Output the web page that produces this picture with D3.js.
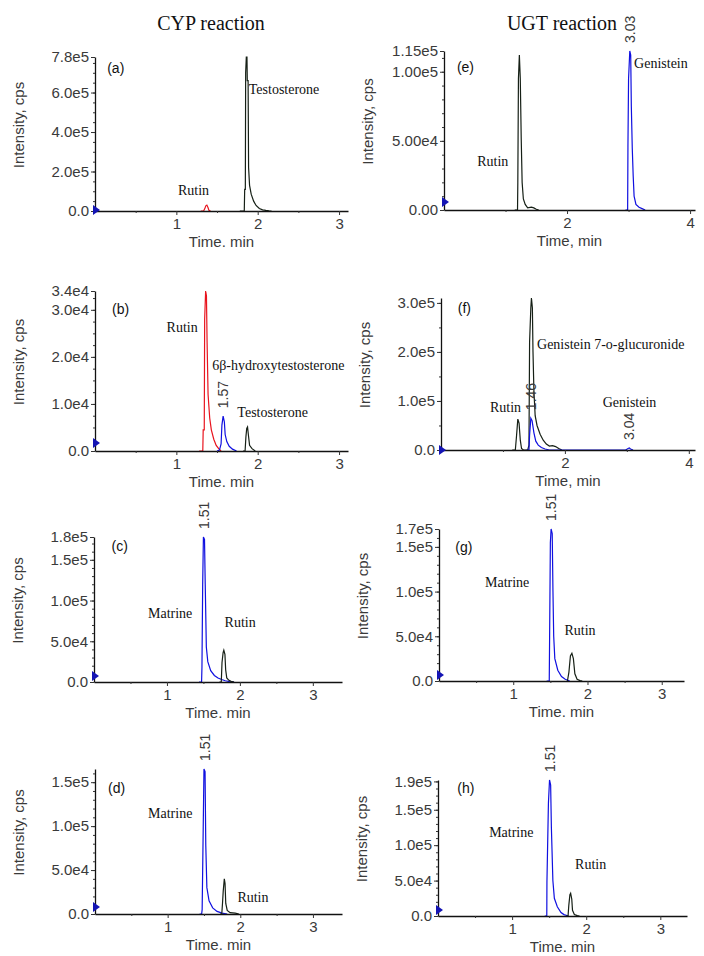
<!DOCTYPE html>
<html><head><meta charset="utf-8">
<script src="https://cdn.jsdelivr.net/npm/d3@7"></script>
<style>body{margin:0;background:#fff}</style>
</head><body><svg id="c" width="704" height="956"></svg>
<script>
// ---------- DATA (time in min, intensity in cps) ----------
const a_rutin = [[1.30,0],[1.335,0],[1.35,1.2e4],[1.362,2.6e4],[1.375,3.0e4],[1.39,1.6e4],[1.40,4e3],[1.42,0]];
const a_testosterone = [[1.78,0],[1.835,0],[1.84,1.1e5],[1.848,1.1e5],[1.852,7.0e5],[1.86,7.8e5],[1.868,7.8e5],[1.872,6.6e5],[1.882,6.6e5],[1.888,2.2e5],[1.90,1.3e5],[1.92,8.5e4],[1.95,5e4],[1.98,2.8e4],[2.02,1.3e4],[2.06,6e3],[2.10,3e3],[2.14,1e3],[2.17,0]];

const b_rutin = [[1.28,0],[1.325,0],[1.33,4.5e3],[1.343,4.5e3],[1.348,2.8e4],[1.36,3.4e4],[1.37,3.3e4],[1.378,2.3e4],[1.39,1.2e4],[1.41,7e3],[1.43,4.5e3],[1.46,2.5e3],[1.49,1.2e3],[1.52,500],[1.55,0]];
const b_hydroxy = [[1.50,0],[1.53,200],[1.55,1.5e3],[1.56,5.5e3],[1.575,7.4e3],[1.59,6.2e3],[1.60,3.5e3],[1.62,2e3],[1.65,1e3],[1.69,400],[1.74,0]];
const b_testosterone = [[1.82,0],[1.845,0],[1.855,3e3],[1.865,4.8e3],[1.875,5.1e3],[1.885,3.5e3],[1.90,1.2e3],[1.93,500],[1.97,0]];

const c_matrine = [[1.44,0],[1.475,0],[1.48,1.8e4],[1.49,1.2e5],[1.50,1.78e5],[1.515,1.75e5],[1.525,1.2e5],[1.54,4.3e4],[1.56,2.5e4],[1.60,1.4e4],[1.65,8e3],[1.70,5e3],[1.75,3e3],[1.80,1.5e3],[1.86,500],[1.92,0]];
const c_rutin = [[1.72,0],[1.745,0],[1.755,2.4e4],[1.77,3.6e4],[1.78,3.9e4],[1.795,3.4e4],[1.805,1.5e4],[1.82,5e3],[1.85,2e3],[1.88,800],[1.92,0]];

const d_matrine = [[1.44,0],[1.468,0],[1.475,5e3],[1.49,1.0e5],[1.50,1.65e5],[1.515,1.62e5],[1.525,7.8e4],[1.54,3e4],[1.57,1.5e4],[1.62,7e3],[1.68,3e3],[1.75,1e3],[1.82,0]];
const d_rutin = [[1.72,0],[1.745,0],[1.755,1.2e4],[1.765,2.6e4],[1.78,4e4],[1.79,3.5e4],[1.80,1.2e4],[1.82,4e3],[1.86,1.5e3],[1.93,1e3],[1.98,0]];

const e_rutin = [[1.15,0],[1.195,0],[1.20,2e4],[1.21,9.5e4],[1.225,1.12e5],[1.24,9.5e4],[1.255,5.2e4],[1.27,2e4],[1.29,8e3],[1.32,4e3],[1.36,1.5e3],[1.42,2e3],[1.46,1.5e3],[1.50,500],[1.54,0]];
const e_genistein = [[2.95,0],[2.985,0],[2.99,4.6e4],[3.0,9.5e4],[3.02,1.15e5],[3.035,1.12e5],[3.045,7.5e4],[3.06,4.5e4],[3.075,2.5e4],[3.09,1e4],[3.12,4e3],[3.17,2e3],[3.22,1e3],[3.27,0]];

const f_black = [[1.15,0],[1.20,0],[1.22,3e4],[1.24,6.3e4],[1.26,5.5e4],[1.28,2e4],[1.30,3e3],[1.33,0],[1.40,0],[1.42,1e4],[1.43,2.2e5],[1.45,2.9e5],[1.46,3.1e5],[1.475,2.9e5],[1.485,2.0e5],[1.50,1.2e5],[1.52,7e4],[1.55,5e4],[1.60,3.2e4],[1.65,2e4],[1.70,1.2e4],[1.75,8e3],[1.80,9e3],[1.85,7e3],[1.90,3e3],[1.95,0]];
const f_blue = [[1.38,0],[1.42,0],[1.43,3e4],[1.45,6.5e4],[1.47,6e4],[1.50,3.5e4],[1.53,1.8e4],[1.57,1e4],[1.62,5e3],[1.68,2e3],[1.75,0],[2.98,0],[3.02,3e3],[3.04,4e3],[3.06,2e3],[3.10,0]];

const g_matrine = [[1.45,0],[1.485,0],[1.49,5e4],[1.50,1.55e5],[1.51,1.7e5],[1.525,1.65e5],[1.535,1e5],[1.545,5e4],[1.56,2.5e4],[1.60,1.2e4],[1.65,5e3],[1.70,2e3],[1.76,0]];
const g_rutin = [[1.73,0],[1.75,1e4],[1.77,2.8e4],[1.79,3.1e4],[1.81,2.5e4],[1.83,8e3],[1.86,2e3],[1.90,500],[1.93,0]];

const h_matrine = [[1.44,0],[1.468,0],[1.47,4.8e4],[1.49,1.59e5],[1.505,1.92e5],[1.52,1.85e5],[1.53,1.25e5],[1.55,5e4],[1.57,2.5e4],[1.61,1.3e4],[1.66,5e3],[1.70,2e3],[1.76,0]];
const h_rutin = [[1.73,0],[1.755,0],[1.765,1.5e4],[1.78,3.0e4],[1.79,3.2e4],[1.805,2.4e4],[1.815,8e3],[1.84,2e3],[1.88,500],[1.91,0]];

// tick values / labels
const a_yTicks = [0,2e5,4e5,6e5,7.8e5], a_yLabels = ["0.0","2.0e5","4.0e5","6.0e5","7.8e5"];
const b_yTicks = [0,1e4,2e4,3e4,3.4e4], b_yLabels = ["0.0","1.0e4","2.0e4","3.0e4","3.4e4"];
const c_yTicks = [0,5e4,1e5,1.5e5,1.78e5], c_yLabels = ["0.0","5.0e4","1.0e5","1.5e5","1.8e5"];
const d_yTicks = [0,5e4,1e5,1.5e5], d_yLabels = ["0.0","5.0e4","1.0e5","1.5e5"];
const e_yTicks = [0,5e4,1e5,1.15e5], e_yLabels = ["0.00","5.00e4","1.00e5","1.15e5"];
const f_yTicks = [0,1e5,2e5,3e5], f_yLabels = ["0.0","1.0e5","2.0e5","3.0e5"];
const g_yTicks = [0,5e4,1e5,1.5e5,1.7e5], g_yLabels = ["0.0","5.0e4","1.0e5","1.5e5","1.7e5"];
const h_yTicks = [0,5e4,1e5,1.5e5,1.9e5], h_yLabels = ["0.0","5.0e4","1.0e5","1.5e5","1.9e5"];
const xTicks3 = [1,2,3], xMinor3 = [0.5,1.5,2.5];
const xTicks4 = [2,4], xMinor4 = [1,3];

// annotations: [time, intensity, text]
const a_notes = [[0.15,7.0e5,"(a)","s"],[1.89,5.93e5,"Testosterone"],[1.02,8.1e4,"Rutin"]];
const b_notes = [[0.21,2.91e4,"(b)","s"],[0.88,2.53e4,"Rutin"],[1.44,1.72e4,"6β-hydroxytestosterone"],[1.75,7.2e3,"Testosterone"]];
const c_notes = [[0.24,1.61e5,"(c)","s"],[0.74,7.9e4,"Matrine"],[1.79,6.75e4,"Rutin"]];
const d_notes = [[0.18,1.38e5,"(d)","s"],[0.73,1.09e5,"Matrine"],[1.96,1.37e4,"Rutin"]];
const e_notes = [[0.21,9.98e4,"(e)","s"],[3.09,1.03e5,"Genistein"],[0.54,3.18e4,"Rutin"]];
const f_notes = [[0.27,2.79e5,"(f)","s"],[1.55,2.06e5,"Genistein 7-o-glucuronide"],[0.79,7.7e4,"Rutin"],[2.61,8.8e4,"Genistein"]];
const g_notes = [[0.22,1.44e5,"(g)","s"],[0.62,1.05e5,"Matrine"],[1.69,5.1e4,"Rutin"]];
const h_notes = [[0.26,1.74e5,"(h)","s"],[0.69,1.12e5,"Matrine"],[1.85,6.6e4,"Rutin"]];

// peak retention-time labels: [time, apex intensity, text]
const b_peaks = [[1.575,7.4e3,"1.57"]];
const c_peaks = [[1.51,1.78e5,"1.51"]];
const d_peaks = [[1.51,1.65e5,"1.51"]];
const e_peaks = [[3.025,1.15e5,"3.03"]];
const f_peaks = [[1.46,6.5e4,"1.46"],[3.04,4e3,"3.04"]];
const g_peaks = [[1.515,1.7e5,"1.51"]];
const h_peaks = [[1.51,1.92e5,"1.51"]];

const titles = ["CYP reaction","UGT reaction"];

// ---------- LAYOUT ----------
const RED="#e8141e", BLUE="#1010e0", BLACK="#162016";
const panels = [
 {box:[95,348,57,211], xMax:3.11, yMax:7.8e5, yT:a_yTicks, yL:a_yLabels, yMinor:5e4, xT:xTicks3, xM:xMinor3, tr:[[a_rutin,RED],[a_testosterone,BLACK]], notes:a_notes, peaks:[], xt:"Time. min", tri:-1},
 {box:[95,348,291,451], xMax:3.11, yMax:3.4e4, yT:b_yTicks, yL:b_yLabels, yMinor:2.5e3, xT:xTicks3, xM:xMinor3, tr:[[b_rutin,RED],[b_hydroxy,BLUE],[b_testosterone,BLACK]], notes:b_notes, peaks:b_peaks, xt:"Time. min", tri:-8},
 {box:[94,342,537,682], xMax:3.4, yMax:1.78e5, yT:c_yTicks, yL:c_yLabels, yMinor:1e4, xT:xTicks3, xM:xMinor3, tr:[[c_matrine,BLUE],[c_rutin,BLACK]], notes:c_notes, peaks:c_peaks, xt:"Time. min", tri:-6},
 {box:[95,342,769,914], xMax:3.4, yMax:1.65e5, yT:d_yTicks, yL:d_yLabels, yMinor:1e4, xT:xTicks3, xM:xMinor3, tr:[[d_matrine,BLUE],[d_rutin,BLACK]], notes:d_notes, peaks:d_peaks, xt:"Time. min", tri:-7},
 {box:[444,695,51,210], xMax:4.08, yMax:1.15e5, yT:e_yTicks, yL:e_yLabels, yMinor:1e4, xT:xTicks4, xM:xMinor4, tr:[[e_rutin,BLACK],[e_genistein,BLUE]], notes:e_notes, peaks:e_peaks, xt:"Time, min", tri:-8},
 {box:[441,695,298,450], xMax:4.1, yMax:3.1e5, yT:f_yTicks, yL:f_yLabels, yMinor:5e4, xT:xTicks4, xM:xMinor4, tr:[[f_black,BLACK],[f_blue,BLUE]], notes:f_notes, peaks:f_peaks, xt:"Time, min", tri:0},
 {box:[439,684,529,681], xMax:3.3, yMax:1.7e5, yT:g_yTicks, yL:g_yLabels, yMinor:1e4, xT:xTicks3, xM:xMinor3, tr:[[g_matrine,BLUE],[g_rutin,BLACK]], notes:g_notes, peaks:g_peaks, xt:"Time. min", tri:-6},
 {box:[438,687,780,916], xMax:3.36, yMax:1.92e5, yT:h_yTicks, yL:h_yLabels, yMinor:1e4, xT:xTicks3, xM:xMinor3, tr:[[h_matrine,BLUE],[h_rutin,BLACK]], notes:h_notes, peaks:h_peaks, xt:"Time. min", tri:-6}
];

const svg = d3.select("#c");
svg.append("rect").attr("width",704).attr("height",956).attr("fill","#fff");
const SANS="'Liberation Sans', Arial, sans-serif", SERIF="'Liberation Serif', 'Times New Roman', serif";

[[211,titles[0]],[562,titles[1]]].forEach(([x,t])=>{
  svg.append("text").attr("x",x).attr("y",30).attr("text-anchor","middle")
    .attr("font-family",SERIF).attr("font-size",20).attr("fill","#111").text(t);
});

panels.forEach(p=>{
  const [L,R,T,B]=p.box;
  const x=d3.scaleLinear().domain([0,p.xMax]).range([L,R]);
  const y=d3.scaleLinear().domain([0,p.yMax]).range([B,T]);
  const g=svg.append("g");
  const line=d3.line().x(d=>x(d[0])).y(d=>y(d[1]));
  p.tr.forEach(([d,c])=>{
    g.append("path").attr("d",line(d)).attr("fill","none").attr("stroke",c).attr("stroke-width",1.2).attr("stroke-linejoin","miter");
  });
  // axes
  const ya=g.append("g").attr("transform",`translate(${L},0)`)
    .call(d3.axisLeft(y).tickValues(p.yT).tickFormat((d,i)=>p.yL[i]).tickSize(4).tickSizeOuter(0).tickPadding(2));
  const ym=g.append("g").attr("transform",`translate(${L},0)`)
    .call(d3.axisLeft(y).tickValues(d3.range(0,p.yMax,p.yMinor)).tickFormat("").tickSize(2).tickSizeOuter(0));
  ym.select(".domain").remove();
  const xa=g.append("g").attr("transform",`translate(0,${B})`)
    .call(d3.axisBottom(x).tickValues(p.xT).tickFormat(d3.format("d")).tickSize(4).tickSizeOuter(0).tickPadding(3));
  const xm=g.append("g").attr("transform",`translate(0,${B})`)
    .call(d3.axisBottom(x).tickValues(p.xM).tickFormat("").tickSize(2).tickSizeOuter(0));
  xm.select(".domain").remove();
  [ya,xa].forEach(a=>{a.selectAll("text").attr("font-family",SANS).attr("font-size",15).attr("fill","#3a3a3a");
    a.select(".domain").attr("stroke","#111").attr("stroke-width",1.3);});
  g.selectAll(".tick line").attr("stroke","#333");
  // blue marker
  const ty=B+p.tri;
  g.append("path").attr("d",`M${L-2},${ty-5}L${L+5},${ty}L${L-2},${ty+5}Z`).attr("fill","#1414b4");
  // axis titles
  g.append("text").attr("transform",`translate(${L-71},${(T+B)/2-9}) rotate(-90)`).attr("text-anchor","middle")
    .attr("font-family",SANS).attr("font-size",15).attr("fill","#3a3a3a").text("Intensity, cps");
  g.append("text").attr("x",(L+R)/2).attr("y",B+36).attr("text-anchor","middle")
    .attr("font-family",SANS).attr("font-size",15).attr("fill","#3a3a3a").text(p.xt);
  // notes
  p.notes.forEach(n=>{
    g.append("text").attr("x",x(n[0])).attr("y",y(n[1]))
      .attr("font-family",n[3]==="s"?SANS:SERIF).attr("font-size",14).attr("fill","#111").text(n[2]);
  });
  p.peaks.forEach(k=>{
    g.append("text").attr("transform",`translate(${x(k[0])+5},${y(k[1])-8}) rotate(-90)`)
      .attr("font-family",SANS).attr("font-size",14).attr("fill","#3a3a3a").text(k[2]);
  });
});
</script></body></html>
